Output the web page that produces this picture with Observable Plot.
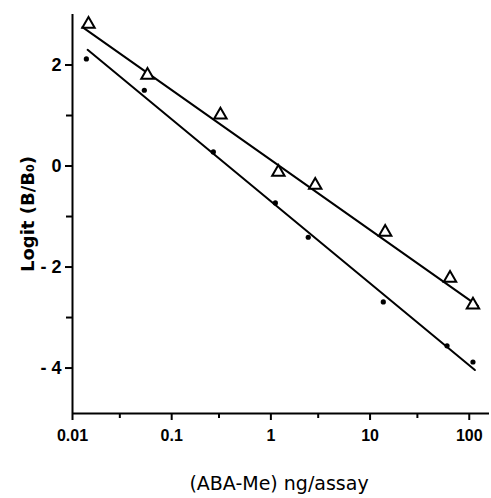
<!DOCTYPE html>
<html>
<head>
<meta charset="utf-8">
<script src="https://cdn.jsdelivr.net/npm/d3@7"></script>
<script src="https://cdn.jsdelivr.net/npm/@observablehq/plot@0.6"></script>
<style>
  html, body { margin: 0; padding: 0; background: #fff; }
</style>
</head>
<body>
<div id="chart"></div>
<script>
// Open triangles series
const triX = [0.0145, 0.057, 0.31, 1.19, 2.8, 14.2, 64, 109];
const triY = [2.81, 1.80, 1.01, -0.12, -0.38, -1.31, -2.22, -2.75];
// Filled dots series
const dotX = [0.0138, 0.053, 0.263, 1.11, 2.38, 13.6, 59.7, 109];
const dotY = [2.12, 1.50, 0.28, -0.73, -1.41, -2.69, -3.56, -3.88];
// Fitted regression lines (end points)
const triLineX = [0.0126, 122];
const triLineY = [2.75, -2.77];
const dotLineX = [0.0142, 114];
const dotLineY = [2.30, -4.04];
// Tick labels
const xMajor = [0.01, 0.1, 1, 10, 100];
const xMajorLabels = ["0.01", "0.1", "1", "10", "100"];
const xMinor = [0.03, 0.3, 3, 30];
const yMajor = [2, 0, -2, -4];
const yMajorLabels = ["2", "0", "- 2", "- 4"];
const yMinor = [1, -1, -3];

const tri = triX.map((x, i) => ({x, y: triY[i]}));
const dots = dotX.map((x, i) => ({x, y: dotY[i]}));
const triLine = triLineX.map((x, i) => ({x, y: triLineY[i]}));
const dotLine = dotLineX.map((x, i) => ({x, y: dotLineY[i]}));

const chart = Plot.plot({
  width: 491,
  height: 498,
  marginLeft: 72,
  marginRight: 2,
  marginTop: 14,
  marginBottom: 85,
  style: {fontFamily: "'Liberation Sans', Arial, sans-serif", background: "white", color: "black"},
  x: {type: "log", domain: [0.01, 160]},
  y: {domain: [-4.9, 3]},
  marks: [
    Plot.axisX({ticks: xMajor, tickFormat: (d) => xMajorLabels[xMajor.indexOf(d)], tickSize: 7, tickPadding: 9, fontSize: 16, fontWeight: "bold", strokeWidth: 2, label: null}),
    Plot.axisX({ticks: xMinor, tickFormat: () => "", tickSize: 5, strokeWidth: 2, label: null}),
    Plot.axisX({ticks: [], label: "(ABA-Me) ng/assay", labelAnchor: "center", labelArrow: "none", labelOffset: 76, fontSize: 19, fontFamily: "'DejaVu Sans', sans-serif"}),
    Plot.axisY({ticks: yMajor, tickFormat: (d) => yMajorLabels[yMajor.indexOf(d)], tickSize: 7, tickPadding: 4, fontSize: 18, fontWeight: "bold", strokeWidth: 2, label: null}),
    Plot.axisY({ticks: yMinor, tickFormat: () => "", tickSize: 6, strokeWidth: 2, label: null}),
    Plot.axisY({ticks: [], label: "Logit (B/B₀)", labelAnchor: "center", labelArrow: "none", labelOffset: 51, fontSize: 18, fontWeight: "bold", fontFamily: "'DejaVu Sans', sans-serif"}),
    Plot.ruleX([0.01], {stroke: "black", strokeWidth: 2}),
    Plot.ruleY([-4.9], {stroke: "black", strokeWidth: 2}),
    Plot.line(triLine, {x: "x", y: "y", stroke: "black", strokeWidth: 2}),
    Plot.line(dotLine, {x: "x", y: "y", stroke: "black", strokeWidth: 2}),
    Plot.dot(tri, {x: "x", y: "y", symbol: "triangle", r: 4.6, fill: "white", stroke: "black", strokeWidth: 2}),
    Plot.dot(dots, {x: "x", y: "y", r: 2.6, fill: "black", stroke: "none"})
  ]
});
// shift the x-axis title slightly left, as in the original figure
d3.select(chart).selectAll('[aria-label="x-axis label"] text').attr("dx", -2);
document.getElementById("chart").appendChild(chart);
</script>
</body>
</html>
